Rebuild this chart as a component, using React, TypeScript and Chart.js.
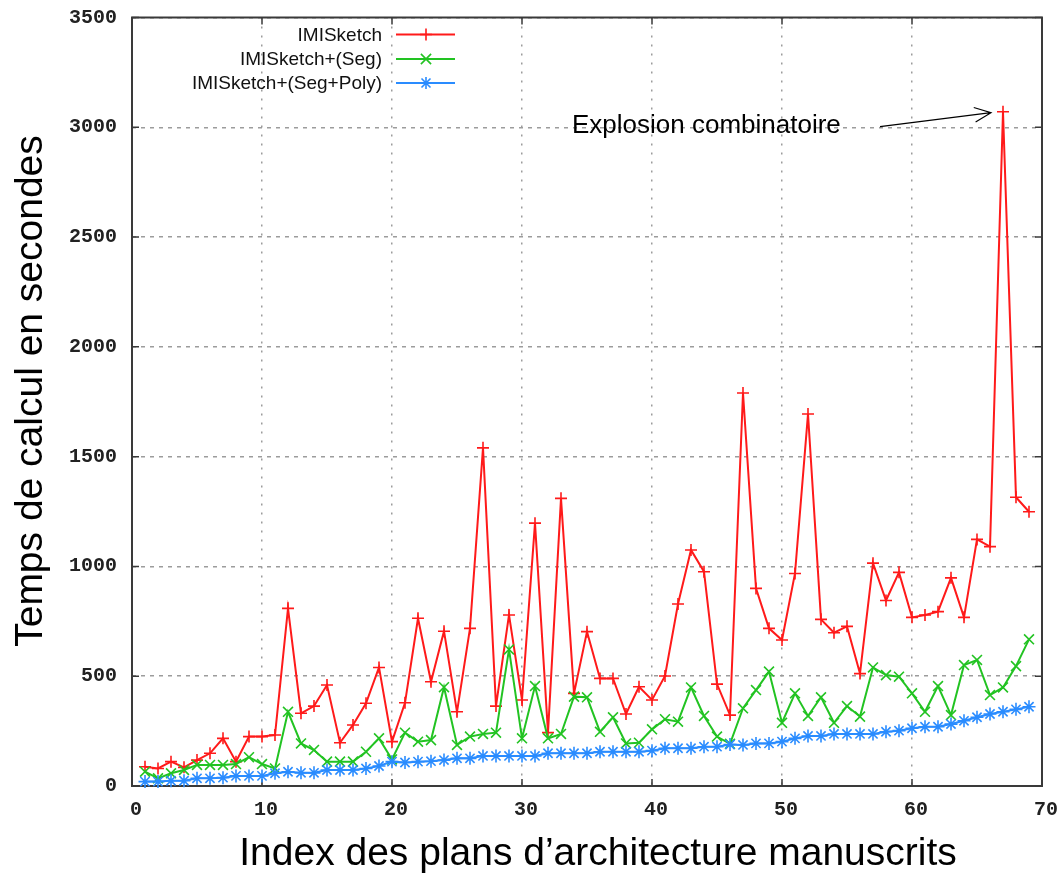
import React, { useEffect, useRef } from "react";
import { Chart, registerables } from "chart.js";

Chart.register(...registerables);

// ---------- data ----------
const planIndex = [
  1, 2, 3, 4, 5, 6, 7, 8, 9, 10, 11, 12, 13, 14, 15, 16, 17, 18, 19, 20, 21, 22, 23,
  24, 25, 26, 27, 28, 29, 30, 31, 32, 33, 34, 35, 36, 37, 38, 39, 40, 41, 42, 43, 44,
  45, 46, 47, 48, 49, 50, 51, 52, 53, 54, 55, 56, 57, 58, 59, 60, 61, 62, 63, 64, 65,
  66, 67, 68, 69,
];

const imiSketch = [
  88, 80, 111, 85, 118, 149, 217, 111, 225, 225, 232, 809, 331, 364, 460, 197, 278,
  377, 540, 202, 379, 764, 475, 705, 338, 718, 1540, 364, 779, 392, 1197, 243, 1310,
  422, 703, 490, 490, 328, 452, 392, 501, 829, 1075, 976, 464, 323, 1790, 900, 718,
  665, 968, 1694, 759, 698, 727, 512, 1015, 845, 973, 768, 779, 794, 948, 768, 1123,
  1090, 3071, 1315, 1249,
];

const imiSketchSeg = [
  65, 35, 58, 73, 96, 96, 96, 100, 131, 100, 80, 338, 194, 164, 111, 111, 111, 156,
  217, 121, 243, 202, 209, 450, 187, 225, 237, 243, 622, 217, 455, 217, 237, 407, 404,
  247, 313, 194, 197, 258, 304, 293, 449, 319, 225, 192, 354, 437, 521, 288, 422, 319,
  404, 288, 364, 316, 540, 505, 498, 422, 338, 455, 323, 551, 574, 414, 449, 546, 668,
];

const imiSketchSegPoly = [
  20, 20, 24, 24, 35, 35, 38, 46, 46, 46, 58, 65, 60, 60, 73, 73, 73, 80, 91, 111, 107,
  111, 113, 118, 126, 126, 137, 137, 137, 137, 137, 149, 149, 149, 149, 156, 156, 156,
  156, 161, 172, 172, 172, 179, 179, 189, 187, 194, 194, 202, 217, 228, 228, 237, 237,
  237, 237, 247, 252, 263, 270, 270, 282, 297, 313, 328, 338, 349, 361,
];

const seriesLabels = ["IMISketch", "IMISketch+(Seg)", "IMISketch+(Seg+Poly)"];
const seriesColors = ["#ff1a1a", "#22c322", "#2a8cff"];
const seriesMarkers = ["cross", "crossRot", "star"];

const xTickValues = [0, 10, 20, 30, 40, 50, 60, 70];
const yTickValues = [0, 500, 1000, 1500, 2000, 2500, 3000, 3500];

const yTitle = "Temps de calcul en secondes";
const xTitle = "Index des plans d’architecture manuscrits";
const annotationText = "Explosion combinatoire";
const annotationTarget = { x: 67, y: 3071 };

// ---------- component ----------
export default function App() {
  const canvasRef = useRef<HTMLCanvasElement | null>(null);

  useEffect(() => {
    document.body.style.margin = "0";
    const canvas = canvasRef.current;
    if (!canvas) return;

    const sans = "'Liberation Sans', Arial, sans-serif";
    const mono = "'Liberation Mono', 'DejaVu Sans Mono', monospace";

    function drawMarker(ctx: CanvasRenderingContext2D, style: string, x: number, y: number, color: string) {
      ctx.save();
      ctx.strokeStyle = color;
      ctx.lineWidth = 1.6;
      ctx.beginPath();
      const r = 6;
      if (style === "cross" || style === "star") {
        ctx.moveTo(x - r, y);
        ctx.lineTo(x + r, y);
        ctx.moveTo(x, y - r);
        ctx.lineTo(x, y + r);
      }
      if (style === "crossRot" || style === "star") {
        const d = style === "star" ? r * 0.75 : r * 0.85;
        ctx.moveTo(x - d, y - d);
        ctx.lineTo(x + d, y + d);
        ctx.moveTo(x - d, y + d);
        ctx.lineTo(x + d, y - d);
      }
      ctx.stroke();
      ctx.restore();
    }

    const decorPlugin = {
      id: "decor",
      beforeDatasetsDraw(chart: any) {
        const { ctx, chartArea: a, scales } = chart;
        ctx.save();
        ctx.strokeStyle = "#3a3a3a";
        ctx.lineWidth = 2;
        ctx.setLineDash([]);
        ctx.strokeRect(a.left, a.top, a.right - a.left, a.bottom - a.top);
        const tl = 7;
        ctx.lineWidth = 1.5;
        ctx.beginPath();
        for (const v of yTickValues) {
          const py = scales.y.getPixelForValue(v);
          ctx.moveTo(a.left, py);
          ctx.lineTo(a.left + tl, py);
          ctx.moveTo(a.right, py);
          ctx.lineTo(a.right - tl, py);
        }
        for (const v of xTickValues) {
          const px = scales.x.getPixelForValue(v);
          ctx.moveTo(px, a.bottom);
          ctx.lineTo(px, a.bottom - tl);
          ctx.moveTo(px, a.top);
          ctx.lineTo(px, a.top + tl);
        }
        ctx.stroke();
        ctx.restore();
      },
      afterDatasetsDraw(chart: any) {
        const { ctx, scales } = chart;
        ctx.save();
        // legend
        ctx.font = `19px ${sans}`;
        ctx.textAlign = "right";
        ctx.textBaseline = "middle";
        const legendTextRight = 382;
        const rowY = [34.5, 59, 83];
        seriesLabels.forEach((lab, i) => {
          const yy = rowY[i];
          ctx.fillStyle = "#111";
          ctx.fillText(lab, legendTextRight, yy + 1);
          ctx.strokeStyle = seriesColors[i];
          ctx.lineWidth = 2;
          ctx.beginPath();
          ctx.moveTo(legendTextRight + 14, yy);
          ctx.lineTo(legendTextRight + 73, yy);
          ctx.stroke();
          drawMarker(ctx, seriesMarkers[i], legendTextRight + 44, yy, seriesColors[i]);
        });

        // annotation
        const tx = scales.x.getPixelForValue(annotationTarget.x) - 12;
        const ty = scales.y.getPixelForValue(annotationTarget.y) + 1;
        ctx.fillStyle = "#000";
        ctx.font = `26px ${sans}`;
        ctx.textAlign = "left";
        ctx.textBaseline = "alphabetic";
        ctx.fillText(annotationText, 572, 133);
        const sx = 880, sy = 126.7;
        ctx.strokeStyle = "#000";
        ctx.lineWidth = 1.2;
        ctx.beginPath();
        ctx.moveTo(sx, sy);
        ctx.lineTo(tx, ty);
        const ang = Math.atan2(ty - sy, tx - sx);
        const hl = 18, ha = 0.42;
        ctx.moveTo(tx - hl * Math.cos(ang - ha), ty - hl * Math.sin(ang - ha));
        ctx.lineTo(tx, ty);
        ctx.lineTo(tx - hl * Math.cos(ang + ha), ty - hl * Math.sin(ang + ha));
        ctx.stroke();

        // axis titles
        ctx.fillStyle = "#000";
        ctx.font = `39px ${sans}`;
        ctx.textAlign = "center";
        ctx.textBaseline = "alphabetic";
        ctx.fillText(xTitle, 598, 865);
        ctx.translate(42, 391);
        ctx.rotate(-Math.PI / 2);
        ctx.fillText(yTitle, 0, 0);
        ctx.restore();
      },
    };

    const zeroPadding = (s: any) => {
      s.paddingTop = 0;
      s.paddingBottom = 0;
      s.paddingLeft = 0;
      s.paddingRight = 0;
    };

    const series = [imiSketch, imiSketchSeg, imiSketchSegPoly];
    const radii = [6, 7, 6.5];

    const chart = new Chart(canvas, {
      type: "line",
      data: {
        datasets: series.map((vals, i) => ({
          label: seriesLabels[i],
          data: planIndex.map((x, k) => ({ x, y: vals[k] })),
          borderColor: seriesColors[i],
          backgroundColor: seriesColors[i],
          pointBorderColor: seriesColors[i],
          borderWidth: 2,
          pointStyle: seriesMarkers[i] as any,
          pointRadius: radii[i],
          pointBorderWidth: 1.6,
          tension: 0,
          fill: false,
          clip: false as any,
          order: 3 - i,
        })),
      },
      options: {
        responsive: false,
        animation: false,
        events: [],
        layout: { padding: { left: 0, right: 21, top: 17.5, bottom: 0 } },
        plugins: {
          legend: { display: false },
          tooltip: { enabled: false },
          title: { display: false },
        },
        scales: {
          x: {
            type: "linear",
            min: 0,
            max: 70,
            afterFit: (s: any) => {
              s.height = 87;
              zeroPadding(s);
            },
            afterBuildTicks: (s: any) => {
              s.ticks = xTickValues.map((v) => ({ value: v }));
            },
            ticks: {
              padding: 12,
              labelOffset: 4,
              color: "#222",
              font: { family: mono, weight: "bold", size: 20 },
              maxRotation: 0,
              callback: (v: any) => String(v),
            },
            grid: {
              color: "#9c9c9c",
              lineWidth: 1.5,
              drawTicks: false,
            },
            border: { display: false, dash: [2, 7] },
          },
          y: {
            type: "linear",
            min: 0,
            max: 3500,
            afterFit: (s: any) => {
              s.width = 132;
              zeroPadding(s);
            },
            afterBuildTicks: (s: any) => {
              s.ticks = yTickValues.map((v) => ({ value: v }));
            },
            ticks: {
              padding: 15,
              color: "#222",
              font: { family: mono, weight: "bold", size: 20 },
              callback: (v: any) => String(v),
            },
            grid: {
              color: "#9c9c9c",
              lineWidth: 1.5,
              drawTicks: false,
            },
            border: { display: false, dash: [4, 5] },
          },
        },
      },
      plugins: [decorPlugin],
    });

    return () => chart.destroy();
  }, []);

  return (
    <div style={{ width: 1063, height: 873, background: "#fff" }}>
      <canvas ref={canvasRef} width={1063} height={873} style={{ display: "block" }} />
    </div>
  );
}
